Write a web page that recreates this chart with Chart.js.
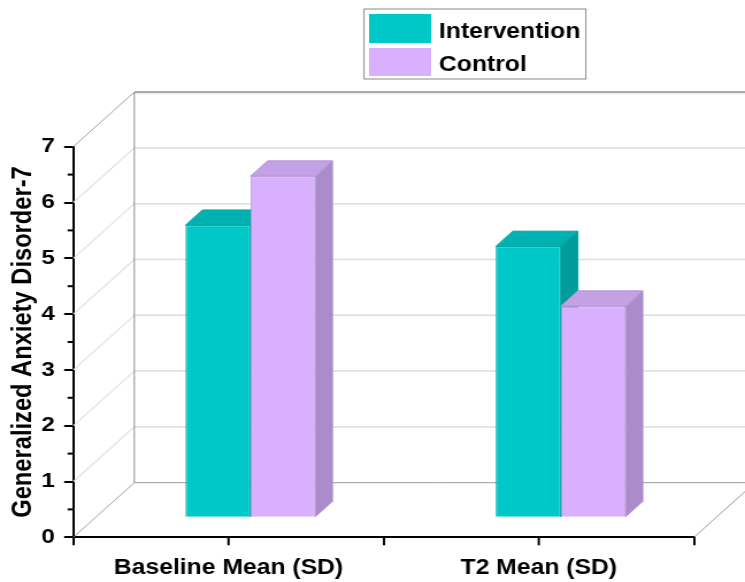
<!DOCTYPE html>
<html>
<head>
<meta charset="utf-8">
<title>Generalized Anxiety Disorder-7</title>
<script src="https://cdn.jsdelivr.net/npm/chart.js@4.4.1/dist/chart.umd.min.js"></script>
<style>
  html, body { margin: 0; padding: 0; background: #ffffff; }
</style>
</head>
<body>
<canvas id="chart" width="648" height="582" style="display:block;width:745px;height:582px;"></canvas>
<script>
// ---- data ----
const categories = ['Baseline Mean (SD)', 'T2 Mean (SD)'];
const seriesNames = ['Intervention', 'Control'];
const interventionValues = [5.24, 4.86];
const controlValues = [6.12, 3.79];
const yTickValues = [0, 1, 2, 3, 4, 5, 6, 7];

// ---- look ----
const FONT = "'Liberation Sans', Arial, Helvetica, sans-serif";
const faces = {
  Intervention: { front: '#00c8c8', top: '#00b1b1', side: '#009c9c', edge: '#00a6a6' },
  Control:      { front: '#d8b0fe', top: '#c4a0e4', side: '#ab8cca', edge: '#b596d6' }
};

// oblique depth of the box (px) and the slab occupied by the bars
const DEPTH = { x: 53, y: 54.6 };
const BAR_FRONT = 0.36;
const BAR_BACK = 0.64;
const depthAt = f => ({ dx: DEPTH.x * f, dy: -DEPTH.y * f });

function line(ctx, x0, y0, x1, y1, color, width) {
  ctx.beginPath();
  ctx.moveTo(x0, y0);
  ctx.lineTo(x1, y1);
  ctx.strokeStyle = color;
  ctx.lineWidth = width;
  ctx.stroke();
}

function poly(ctx, pts, fill, stroke) {
  ctx.beginPath();
  ctx.moveTo(pts[0][0], pts[0][1]);
  for (let i = 1; i < pts.length; i++) ctx.lineTo(pts[i][0], pts[i][1]);
  ctx.closePath();
  ctx.fillStyle = fill;
  ctx.fill();
  ctx.strokeStyle = stroke;
  ctx.lineWidth = 1;
  ctx.stroke();
}

// walls, floor, extra ticks and the depth faces of the bars
const box3d = {
  id: 'box3d',
  beforeDatasetsDraw(chart) {
    const ctx = chart.ctx;
    const { left, right, bottom } = chart.chartArea;
    const ys = chart.scales.y;
    const xs = chart.scales.x;
    const back = depthAt(1);
    const vMin = yTickValues[0];
    const vMax = yTickValues[yTickValues.length - 1];

    ctx.save();
    // left wall diagonals + back wall horizontal lines
    yTickValues.forEach(v => {
      const py = ys.getPixelForValue(v);
      const edge = (v === vMin || v === vMax);
      line(ctx, left, py, left + back.dx, py + back.dy, edge ? '#a0a0a0' : '#e0e0e0', edge ? 1 : 1.2);
      if (v !== vMin && v !== vMax) {
        line(ctx, left + back.dx, py + back.dy, chart.width, py + back.dy, '#dedede', 1.5);
      }
    });
    // back wall frame
    const backTop = ys.getPixelForValue(vMax) + back.dy;
    const backBottom = ys.getPixelForValue(vMin) + back.dy;
    line(ctx, left + back.dx, backTop, chart.width, backTop, '#acacac', 2.2);
    line(ctx, left + back.dx, backBottom, chart.width, backBottom, '#9a9a9a', 1);
    line(ctx, left + back.dx, backTop, left + back.dx, backBottom, '#8c8c8c', 1);
    // floor right edge
    line(ctx, right, bottom, right + back.dx, bottom + back.dy, '#9a9a9a', 1);

    // minor ticks on the value axis
    for (let i = 0; i < yTickValues.length - 1; i++) {
      const py = ys.getPixelForValue((yTickValues[i] + yTickValues[i + 1]) / 2);
      line(ctx, left - 5, py, left, py, '#000', 2);
    }
    // ticks under each category
    categories.forEach((_, i) => {
      const px = xs.getPixelForValue(i);
      line(ctx, px, bottom, px, bottom + 8, '#000', 2);
    });

    // top and side faces of every bar
    const f = depthAt(BAR_FRONT);
    const b = depthAt(BAR_BACK);
    const ddx = b.dx - f.dx, ddy = b.dy - f.dy;
    categories.forEach((_, i) => {
      chart.data.datasets.forEach((ds, di) => {
        const el = chart.getDatasetMeta(di).data[i];
        const c = faces[ds.label];
        const x0 = el.x - el.width / 2 + f.dx;
        const x1 = el.x + el.width / 2 + f.dx;
        const yt = el.y + f.dy;
        const yb = el.base + f.dy;
        poly(ctx, [[x1, yt], [x1 + ddx, yt + ddy], [x1 + ddx, yb + ddy], [x1, yb]], c.side, c.edge);
        poly(ctx, [[x0, yt], [x0 + ddx, yt + ddy], [x1 + ddx, yt + ddy], [x1, yt]], c.top, c.edge);
      });
    });
    ctx.restore();

    // front faces are drawn by Chart.js on the bars' front plane
    ctx.save();
    ctx.translate(f.dx, f.dy);
  },
  afterDatasetsDraw(chart) {
    chart.ctx.restore();
  },
  afterDraw(chart) {
    // framed legend
    const ctx = chart.ctx;
    ctx.save();
    ctx.strokeStyle = '#8a8a8a';
    ctx.lineWidth = 1;
    ctx.strokeRect(316.6, 9, 193, 70);
    const rows = [{ y: 14, h: 29, base: 38 }, { y: 48, h: 28, base: 70.5 }];
    chart.data.datasets.forEach((ds, i) => {
      const r = rows[i];
      ctx.fillStyle = ds.backgroundColor;
      ctx.fillRect(321, r.y, 54, r.h);
      ctx.fillStyle = '#000';
      ctx.font = 'bold 21.5px ' + FONT;
      ctx.textAlign = 'left';
      ctx.textBaseline = 'alphabetic';
      ctx.fillText(ds.label, 381.8, r.base);
    });
    ctx.restore();
  }
};

new Chart(document.getElementById('chart'), {
  type: 'bar',
  data: {
    labels: categories,
    datasets: [
      {
        label: seriesNames[0],
        data: interventionValues,
        backgroundColor: faces.Intervention.front,
        borderColor: faces.Intervention.edge,
        borderWidth: 1,
        clip: false
      },
      {
        label: seriesNames[1],
        data: controlValues,
        backgroundColor: faces.Control.front,
        borderColor: faces.Control.edge,
        borderWidth: 1,
        clip: false
      }
    ]
  },
  options: {
    responsive: false,
    devicePixelRatio: 1,
    animation: false,
    events: [],
    layout: { padding: { top: 146.7, right: 44.4, bottom: 0, left: 0 } },
    datasets: { bar: { categoryPercentage: 0.419, barPercentage: 1 } },
    plugins: { legend: { display: false }, tooltip: { enabled: false } },
    scales: {
      x: {
        grid: { drawOnChartArea: false, tickLength: 8, color: '#000', lineWidth: 2 },
        border: { display: true, color: '#000', width: 2 },
        ticks: { color: '#000', padding: 10, font: { family: FONT, size: 21.5, weight: 'bold' } },
        afterFit(scale) { scale.height = 44.7; }
      },
      y: {
        min: 0,
        max: 7,
        afterBuildTicks(scale) { scale.ticks = yTickValues.map(v => ({ value: v })); },
        grid: { drawOnChartArea: false, tickLength: 8, color: '#000', lineWidth: 2 },
        border: { display: true, color: '#000', width: 2 },
        ticks: { color: '#000', padding: 8, font: { family: FONT, size: 21, weight: 'bold' } },
        title: {
          display: true,
          text: 'Generalized Anxiety Disorder-7',
          color: '#000',
          font: { family: FONT, size: 23.7, weight: 'bold' },
          padding: { top: 6, bottom: 0 }
        },
        afterFit(scale) { scale.width = 63.8; }
      }
    }
  },
  plugins: [box3d]
});
</script>
</body>
</html>
